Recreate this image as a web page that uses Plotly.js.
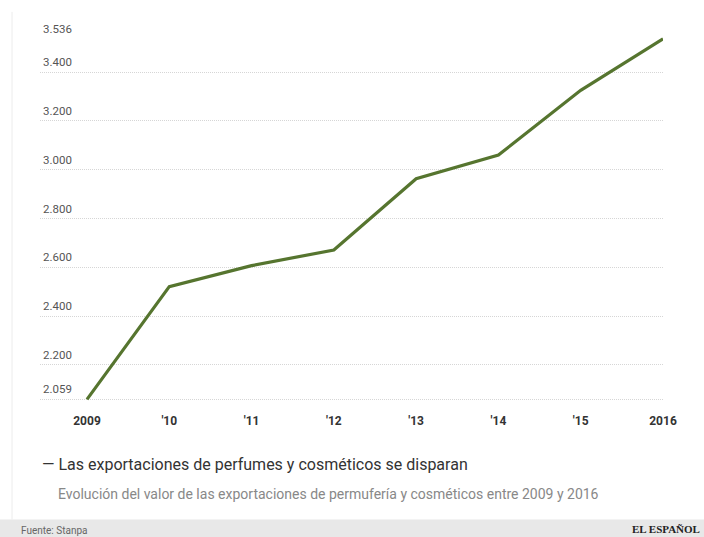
<!DOCTYPE html>
<html>
<head>
<meta charset="utf-8">
<script src="https://cdn.plot.ly/plotly-3.0.1.min.js"></script>
<style>html,body{margin:0;padding:0;background:#fff;}#chart{width:704px;height:537px;}</style>
</head>
<body>
<div id="chart"></div>
<script>
// Data
const years = [2009, 2010, 2011, 2012, 2013, 2014, 2015, 2016];
const yearLabels = ["2009", "'10", "'11", "'12", "'13", "'14", "'15", "2016"];
const exportsValue = [2059, 2521, 2607, 2671, 2963, 3060, 3325, 3536];
const gridTicks = [2059, 2200, 2400, 2600, 2800, 3000, 3200, 3400];
const yLabelVals = [2059, 2200, 2400, 2600, 2800, 3000, 3200, 3400, 3536];
const yLabelText = ["2.059", "2.200", "2.400", "2.600", "2.800", "3.000", "3.200", "3.400", "3.536"];
const titleText = "— Las exportaciones de perfumes y cosméticos se disparan";
const subtitleText = "Evolución del valor de las exportaciones de permufería y cosméticos entre 2009 y 2016";
const sourceText = "Fuente: Stanpa";
const brandText = "EL ESPAÑOL";

// Layout helpers (pixel -> paper)
const W = 704, H = 537;
const L = 40, R = 663, T = 33.1, B = 403.6;
const px = x => (x - L) / (R - L);
const py = y => (B - y) / (B - T);

const trace = {
  x: years, y: exportsValue, type: 'scatter', mode: 'lines',
  line: {color: '#56752f', width: 3.2}, hoverinfo: 'skip', cliponaxis: false
};

const annotations = yLabelVals.map((v, i) => ({
  xref: 'paper', yref: 'y', x: px(41), y: v, yshift: 10,
  xanchor: 'left', yanchor: 'middle', showarrow: false,
  text: yLabelText[i], font: {family: 'Roboto, sans-serif', size: 11.5, color: '#555'}
}));
annotations.push(
  {xref: 'paper', yref: 'paper', x: px(40), y: py(464), xanchor: 'left', yanchor: 'middle', showarrow: false,
   text: titleText, font: {family: 'Roboto, sans-serif', size: 16, color: '#333'}},
  {xref: 'paper', yref: 'paper', x: px(56), y: py(493), xanchor: 'left', yanchor: 'middle', showarrow: false,
   text: subtitleText, font: {family: 'Roboto, sans-serif', size: 14, color: '#888'}},
  {xref: 'paper', yref: 'paper', x: px(19), y: py(530), xanchor: 'left', yanchor: 'middle', showarrow: false,
   text: sourceText, font: {family: 'Roboto, sans-serif', size: 10, color: '#666'}},
  {xref: 'paper', yref: 'paper', x: px(702), y: py(528), xanchor: 'right', yanchor: 'middle', showarrow: false,
   text: brandText, font: {family: '"Liberation Serif", serif', size: 11, color: '#222', weight: 'bold'}}
);

const layout = {
  width: W, height: H,
  margin: {l: L, r: W - R, t: T, b: H - B, pad: 0},
  paper_bgcolor: '#fff', plot_bgcolor: '#fff',
  showlegend: false,
  xaxis: {
    range: [2009 - 47 / 82.3, 2016], tickvals: years, ticktext: yearLabels,
    showgrid: false, zeroline: false, showline: false, ticks: '',
    ticklabelstandoff: 8,
    tickfont: {family: 'Roboto, sans-serif', size: 12, color: '#333', weight: 'bold'},
    fixedrange: true
  },
  yaxis: {
    range: [2040, 3560], tickvals: gridTicks, showticklabels: false,
    showgrid: true, gridcolor: '#d6d6d6', gridwidth: 1, griddash: '1px,1px',
    zeroline: false, showline: false, ticks: '', fixedrange: true
  },
  shapes: [
    {type: 'line', xref: 'paper', yref: 'paper', x0: px(12), x1: px(12), y0: py(12), y1: py(519),
     line: {color: '#ececec', width: 1}},
    {type: 'rect', xref: 'paper', yref: 'paper', x0: px(0), x1: px(704), y0: py(537), y1: py(519),
     fillcolor: '#e8e8e8', line: {width: 0}, layer: 'below'}
  ],
  annotations: annotations
};

Plotly.newPlot('chart', [trace], layout, {displayModeBar: false, staticPlot: true});
</script>
</body>
</html>
